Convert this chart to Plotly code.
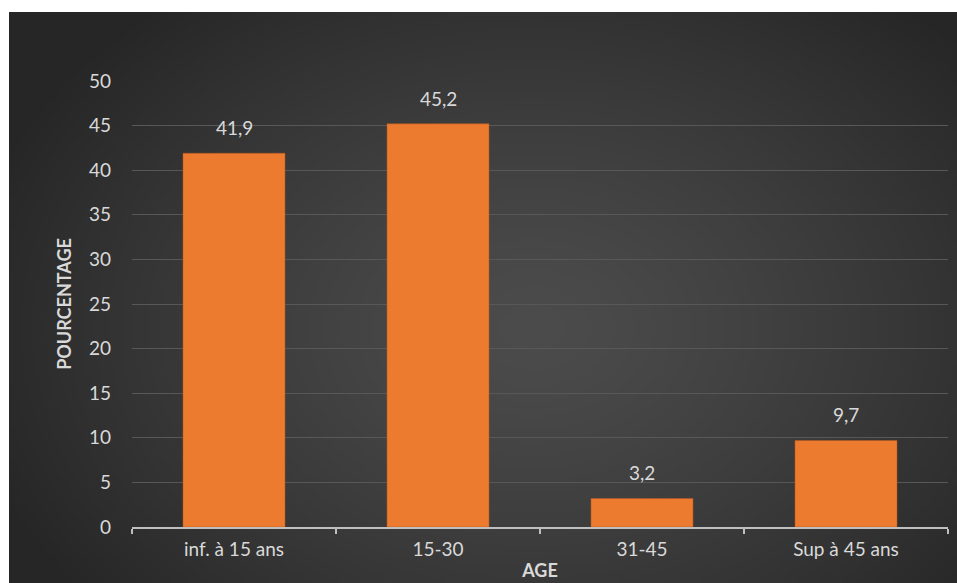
import base64, struct, zlib
import numpy as np
import plotly.graph_objects as go

categories = ["inf. à 15 ans", "15-30", "31-45", "Sup à 45 ans"]
values = [41.9, 45.2, 3.2, 9.7]
y_ticks = [0, 5, 10, 15, 20, 25, 30, 35, 40, 45, 50]


def radial_png(w=240, h=150):
    yy, xx = np.mgrid[0:h, 0:w]
    cx, cy = w * 0.55, h * 0.55
    d = np.sqrt(((xx - cx) / (w * 0.62)) ** 2 + ((yy - cy) / (h * 0.75)) ** 2)
    d = np.clip(d, 0, 1)
    inner, outer = 76, 38
    v = (inner + (outer - inner) * d ** 1.3).astype(np.uint8)
    img = np.stack([v, v, v], axis=-1)
    raw = b"".join(b"\x00" + img[r].tobytes() for r in range(h))

    def chunk(t, data):
        c = struct.pack(">I", len(data)) + t + data
        return c + struct.pack(">I", zlib.crc32(t + data) & 0xFFFFFFFF)

    png = b"\x89PNG\r\n\x1a\n" + chunk(b"IHDR", struct.pack(">IIBBBBB", w, h, 8, 2, 0, 0, 0))
    png += chunk(b"IDAT", zlib.compress(raw, 9)) + chunk(b"IEND", b"")
    return "data:image/png;base64," + base64.b64encode(png).decode()


W, H = 957, 583
L, R, T, B = 132, 9, 81, 56
pw, ph = W - L - R, H - T - B

def px(x):
    return (x - L) / pw

def py(y):
    return (H - B - y) / ph

FONT = "Lato"
TXT = "#D9D9D9"

fig = go.Figure()
fig.add_trace(go.Bar(
    x=categories, y=values,
    marker=dict(color="#EC7A2F", line=dict(color="#B85A1E", width=0.5)),
    cliponaxis=False,
))

for c, v in zip(categories, values):
    fig.add_annotation(
        x=c, y=v, text=f"{v:.1f}".replace(".", ","), showarrow=False,
        yanchor="bottom", yshift=12, font=dict(color=TXT, size=19, family=FONT),
    )

fig.add_layout_image(dict(
    source=radial_png(), xref="paper", yref="paper",
    x=px(9), y=py(12), sizex=px(W) - px(9), sizey=py(12) - py(H),
    sizing="stretch", layer="below", xanchor="left", yanchor="top",
))

fig.update_layout(
    width=W, height=H,
    margin=dict(l=L, r=R, t=T, b=B),
    paper_bgcolor="white", plot_bgcolor="rgba(0,0,0,0)",
    separators=", ",
    bargap=0.5,
    showlegend=False,
    font=dict(family=FONT, color=TXT, size=19),
)
fig.update_xaxes(
    automargin=False,
    showline=True, linecolor="#BFBFBF", linewidth=1.5,
    ticks="outside", tickson="boundaries", ticklen=5, tickcolor="#BFBFBF", tickwidth=1.5,
    tickfont=dict(size=19, color=TXT), ticklabelstandoff=4,
    showgrid=False,
    title=dict(text="<b>AGE</b>", font=dict(size=18, color=TXT), standoff=6),
)
fig.update_yaxes(
    automargin=False,
    range=[0, 50], tickvals=y_ticks,
    showgrid=True, gridcolor="#585858", gridwidth=1,
    zeroline=False, showline=False,
    ticks="", ticklabelstandoff=20,
    tickfont=dict(size=19, color=TXT),
    title=dict(text="<b>POURCENTAGE</b>", font=dict(size=18, color=TXT), standoff=12),
)

fig.write_html("out.html")
